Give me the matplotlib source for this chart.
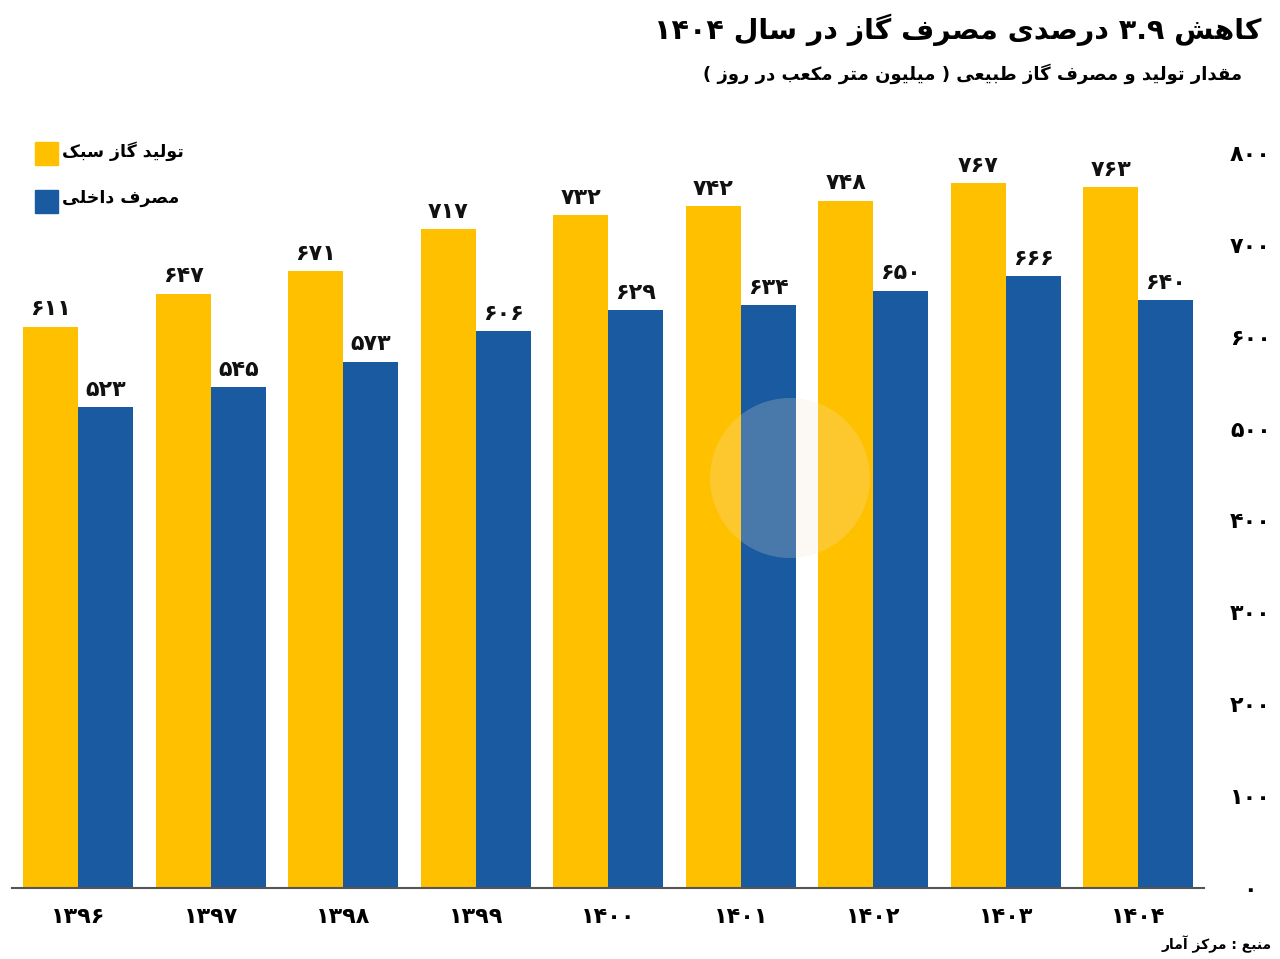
import re
import numpy as np
import matplotlib
matplotlib.use("Agg")
import matplotlib.pyplot as plt
from matplotlib.patches import Ellipse

# data
years = ["۱۳۹۶", "۱۳۹۷", "۱۳۹۸", "۱۳۹۹", "۱۴۰۰", "۱۴۰۱", "۱۴۰۲", "۱۴۰۳", "۱۴۰۴"]
production = [611, 647, 671, 717, 732, 742, 748, 767, 763]
consumption = [523, 545, 573, 606, 629, 634, 650, 666, 640]
yticks = [0, 100, 200, 300, 400, 500, 600, 700, 800]

title = "کاهش ۳.۹ درصدی مصرف گاز در سال ۱۴۰۴"
subtitle = "مقدار تولید و مصرف گاز طبیعی ( میلیون متر مکعب در روز )"
source = "منبع : مرکز آمار"
lab_prod = "تولید گاز سبک"
lab_cons = "مصرف داخلی"

YELLOW = "#FFC000"
BLUE = "#1A5AA0"

# simple persian shaping (isolated, final, initial, medial)
FORMS = {
    'ا': (0xFE8D, 0xFE8E, None, None), 'آ': (0xFE81, 0xFE82, None, None),
    'ب': (0xFE8F, 0xFE90, 0xFE91, 0xFE92), 'پ': (0xFB56, 0xFB57, 0xFB58, 0xFB59),
    'ت': (0xFE95, 0xFE96, 0xFE97, 0xFE98), 'ث': (0xFE99, 0xFE9A, 0xFE9B, 0xFE9C),
    'ج': (0xFE9D, 0xFE9E, 0xFE9F, 0xFEA0), 'چ': (0xFB7A, 0xFB7B, 0xFB7C, 0xFB7D),
    'ح': (0xFEA1, 0xFEA2, 0xFEA3, 0xFEA4), 'خ': (0xFEA5, 0xFEA6, 0xFEA7, 0xFEA8),
    'د': (0xFEA9, 0xFEAA, None, None), 'ذ': (0xFEAB, 0xFEAC, None, None),
    'ر': (0xFEAD, 0xFEAE, None, None), 'ز': (0xFEAF, 0xFEB0, None, None),
    'ژ': (0xFB8A, 0xFB8B, None, None),
    'س': (0xFEB1, 0xFEB2, 0xFEB3, 0xFEB4), 'ش': (0xFEB5, 0xFEB6, 0xFEB7, 0xFEB8),
    'ص': (0xFEB9, 0xFEBA, 0xFEBB, 0xFEBC), 'ض': (0xFEBD, 0xFEBE, 0xFEBF, 0xFEC0),
    'ط': (0xFEC1, 0xFEC2, 0xFEC3, 0xFEC4), 'ظ': (0xFEC5, 0xFEC6, 0xFEC7, 0xFEC8),
    'ع': (0xFEC9, 0xFECA, 0xFECB, 0xFECC), 'غ': (0xFECD, 0xFECE, 0xFECF, 0xFED0),
    'ف': (0xFED1, 0xFED2, 0xFED3, 0xFED4), 'ق': (0xFED5, 0xFED6, 0xFED7, 0xFED8),
    'ک': (0xFB8E, 0xFB8F, 0xFB90, 0xFB91), 'گ': (0xFB92, 0xFB93, 0xFB94, 0xFB95),
    'ل': (0xFEDD, 0xFEDE, 0xFEDF, 0xFEE0), 'م': (0xFEE1, 0xFEE2, 0xFEE3, 0xFEE4),
    'ن': (0xFEE5, 0xFEE6, 0xFEE7, 0xFEE8), 'ه': (0xFEE9, 0xFEEA, 0xFEEB, 0xFEEC),
    'و': (0xFEED, 0xFEEE, None, None), 'ی': (0xFBFC, 0xFBFD, 0xFBFE, 0xFBFF),
}
PDIG = str.maketrans('0123456789', '۰۱۲۳۴۵۶۷۸۹')


def fa(s):
    out = []
    for i, c in enumerate(s):
        if c not in FORMS:
            out.append(c)
            continue
        prev = s[i - 1] if i > 0 else ''
        nxt = s[i + 1] if i + 1 < len(s) else ''
        iso, fin, ini, med = FORMS[c]
        jp = prev in FORMS and FORMS[prev][2] is not None
        jn = nxt in FORMS and ini is not None
        if jp and jn:
            g = med
        elif jp:
            g = fin
        elif jn:
            g = ini
        else:
            g = iso
        out.append(chr(g))
    v = ''.join(out)[::-1]
    v = re.sub('[۰-۹.]+', lambda m: m.group(0)[::-1], v)
    return v.translate(str.maketrans('()', ')('))


plt.rcParams['font.family'] = ['DejaVu Sans']
plt.rcParams['font.weight'] = 'bold'

fig = plt.figure(figsize=(12.8, 9.59), dpi=100)
ax = fig.add_axes([0.0094, 0.074, 0.9316, 0.7665])

x = np.arange(len(years))
w = 0.415
b1 = ax.bar(x - w / 2, production, w, color=YELLOW)
b2 = ax.bar(x + w / 2, consumption, w, color=BLUE)

for rect, v in zip(list(b1) + list(b2), production + consumption):
    ax.text(rect.get_x() + rect.get_width() / 2, v + 8, str(v).translate(PDIG),
            ha='center', va='bottom', fontsize=16, fontweight='bold', color='#111111')

ax.set_xlim(-0.5, 8.5)
ax.set_ylim(0, 800)
ax.set_xticks(x)
ax.set_xticklabels(years, fontsize=16, fontweight='bold')
ax.set_yticks(yticks)
ax.set_yticklabels([str(t).translate(PDIG) for t in yticks], fontsize=16, fontweight='bold')
ax.yaxis.tick_right()
ax.tick_params(axis='y', length=0, pad=33)
ax.tick_params(axis='x', length=0, pad=14)
for s in ['top', 'left', 'right']:
    ax.spines[s].set_visible(False)
ax.spines['bottom'].set_color('#555555')
ax.spines['bottom'].set_linewidth(1.5)
for lab in ax.get_yticklabels():
    lab.set_horizontalalignment('center')

# faded watermark
fig.patches.append(Ellipse((790 / 1280, 1 - 478 / 959), 160 / 1280, 160 / 959,
                           transform=fig.transFigure, facecolor='#f3e8d2',
                           alpha=0.22, edgecolor='none', zorder=5))

# legend
fig.patches.append(plt.Rectangle((35 / 1280, 1 - 165 / 959), 23 / 1280, 23 / 959,
                                 transform=fig.transFigure, color=YELLOW))
fig.patches.append(plt.Rectangle((35 / 1280, 1 - 213 / 959), 23 / 1280, 23 / 959,
                                 transform=fig.transFigure, color=BLUE))
fig.text(62 / 1280, 1 - 151 / 959, fa(lab_prod), ha='left', va='center', fontsize=12.5, fontweight='bold')
fig.text(62 / 1280, 1 - 198 / 959, fa(lab_cons), ha='left', va='center', fontsize=12.5, fontweight='bold')

fig.text(1262 / 1280, 1 - 30 / 959, fa(title), ha='right', va='center', fontsize=20.5, fontweight='bold')
fig.text(1242 / 1280, 1 - 74 / 959, fa(subtitle), ha='right', va='center', fontsize=13, fontweight='bold')
fig.text(1272 / 1280, 1 - 944 / 959, fa(source), ha='right', va='center', fontsize=10, fontweight='bold')

fig.savefig("out.png", dpi=100)
